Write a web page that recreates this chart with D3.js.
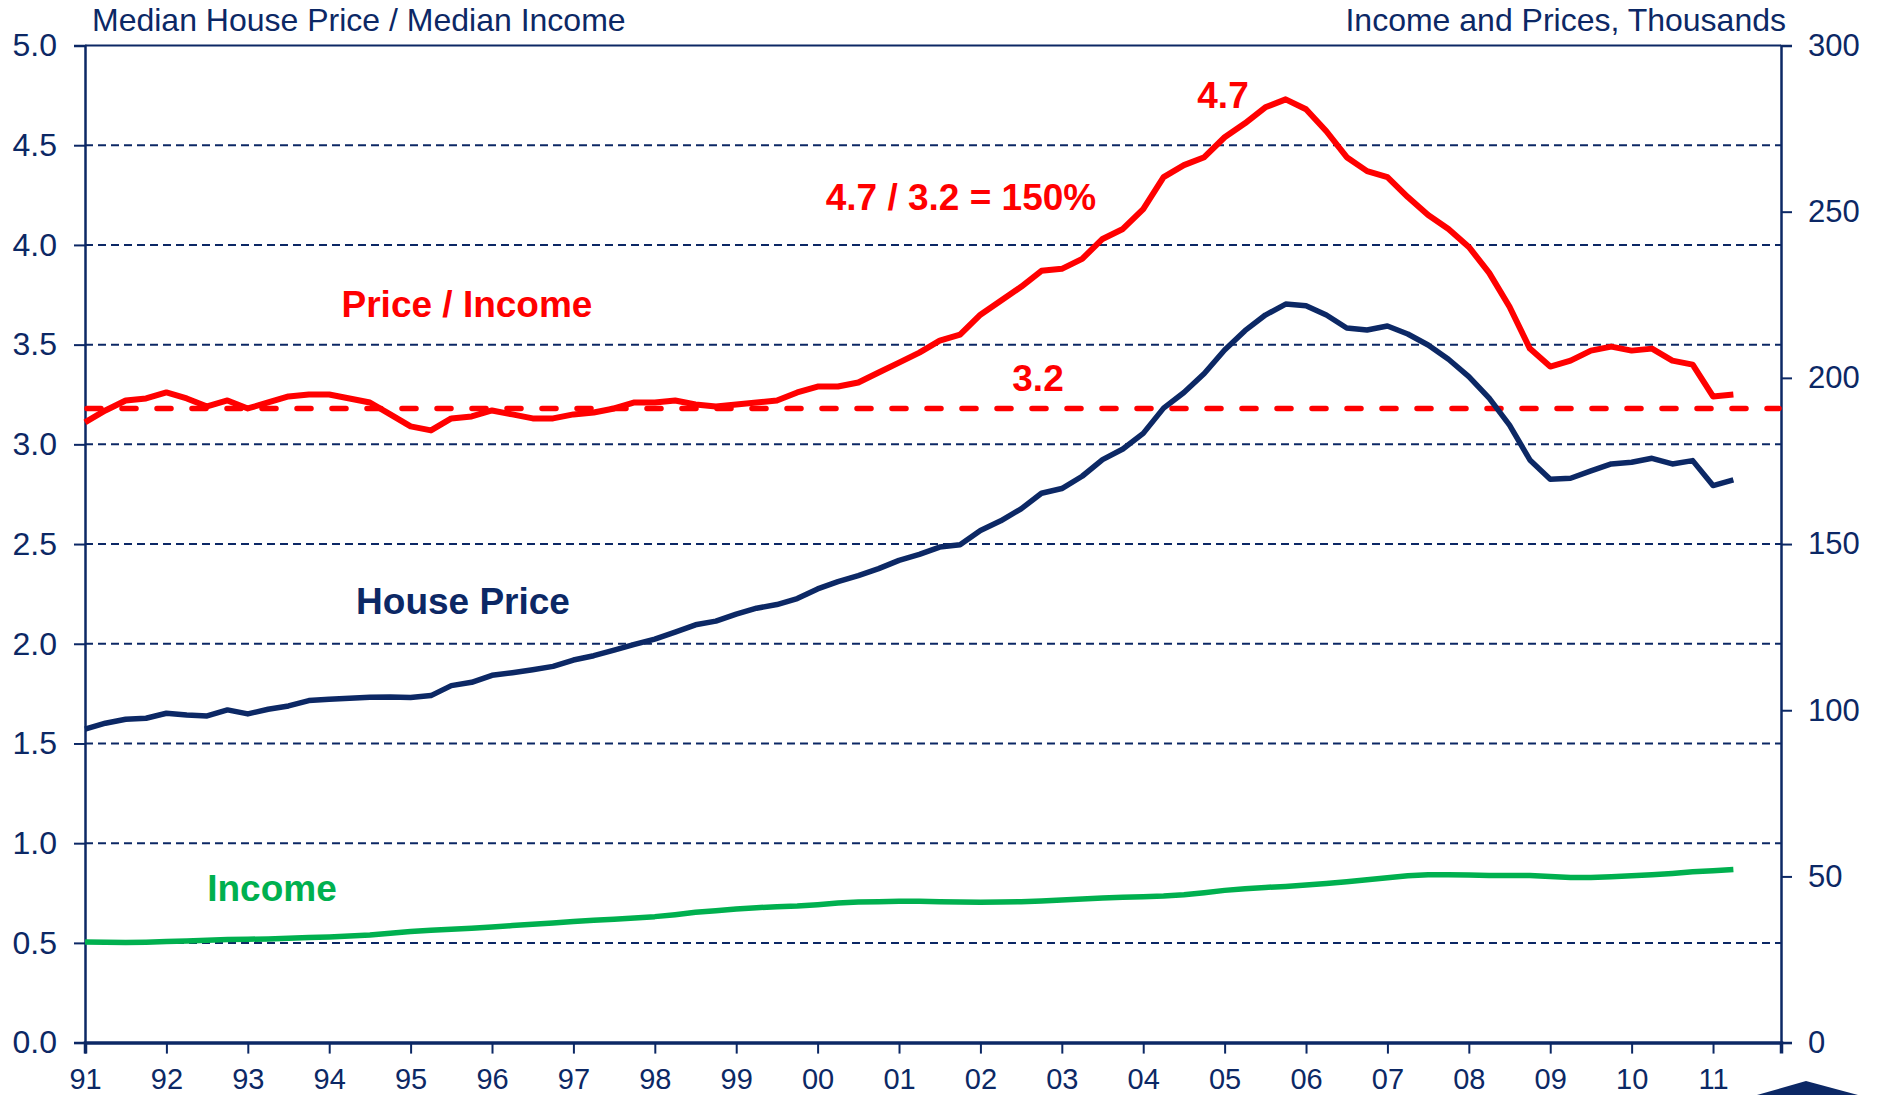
<!DOCTYPE html>
<html>
<head>
<meta charset="utf-8">
<script src="https://cdn.jsdelivr.net/npm/d3@7"></script>
<style>
	html, body { margin: 0; padding: 0; background: #ffffff; }
	svg { display: block; font-family: Arial, "Liberation Sans", sans-serif; }
</style>
</head>
<body>
<svg id="chart" width="1877" height="1095"></svg>
<script>
// quarterly series, 1991 Q1 .. 2011 Q2
var startYear = 1991;

var priceIncome = [
	3.11, 3.17, 3.22, 3.23, 3.26, 3.23, 3.19, 3.22, 3.18, 3.21,
	3.24, 3.25, 3.25, 3.23, 3.21, 3.15, 3.09, 3.07, 3.13, 3.14,
	3.17, 3.15, 3.13, 3.13, 3.15, 3.16, 3.18, 3.21, 3.21, 3.22,
	3.20, 3.19, 3.20, 3.21, 3.22, 3.26, 3.29, 3.29, 3.31, 3.36,
	3.41, 3.46, 3.52, 3.55, 3.65, 3.72, 3.79, 3.87, 3.88, 3.93,
	4.03, 4.08, 4.18, 4.34, 4.40, 4.44, 4.54, 4.61, 4.69, 4.73,
	4.68, 4.57, 4.44, 4.37, 4.34, 4.24, 4.15, 4.08, 3.99, 3.86,
	3.69, 3.48, 3.39, 3.42, 3.47, 3.49, 3.47, 3.48, 3.42, 3.40,
	3.24, 3.25
];

var housePrice = [
	94.3, 96.1, 97.3, 97.6, 99.1, 98.6, 98.3, 100.1, 98.9, 100.3,
	101.3, 102.9, 103.3, 103.6, 103.9, 104.0, 103.8, 104.4, 107.4, 108.4,
	110.5, 111.3, 112.2, 113.2, 115.1, 116.4, 118.1, 119.8, 121.4, 123.5,
	125.7, 126.8, 128.9, 130.7, 131.8, 133.6, 136.5, 138.7, 140.5, 142.6,
	145.1, 146.9, 149.1, 149.8, 154.1, 157.0, 160.6, 165.3, 166.7, 170.4,
	175.4, 178.6, 183.3, 190.9, 195.6, 201.3, 208.4, 214.2, 218.9, 222.2,
	221.7, 218.9, 215.0, 214.4, 215.6, 213.2, 209.9, 205.6, 200.4, 193.9,
	185.8, 175.3, 169.5, 169.8, 172.0, 174.1, 174.6, 175.8, 174.1, 175.1,
	167.6, 169.3
];

var income = [
	30.3, 30.2, 30.1, 30.2, 30.4, 30.6, 30.8, 31.0, 31.1, 31.2,
	31.4, 31.6, 31.8, 32.1, 32.4, 32.9, 33.4, 33.8, 34.1, 34.4,
	34.8, 35.2, 35.6, 36.0, 36.4, 36.8, 37.1, 37.5, 37.9, 38.5,
	39.2, 39.7, 40.2, 40.6, 40.9, 41.1, 41.5, 42.0, 42.3, 42.4,
	42.5, 42.5, 42.4, 42.3, 42.2, 42.3, 42.4, 42.6, 42.9, 43.2,
	43.5, 43.7, 43.9, 44.1, 44.5, 45.1, 45.8, 46.3, 46.7, 47.0,
	47.4, 47.9, 48.4, 49.0, 49.6, 50.2, 50.5, 50.5, 50.4, 50.3,
	50.3, 50.3, 50.0, 49.7, 49.7, 49.9, 50.2, 50.5, 50.9, 51.4,
	51.7, 52.1
];

var avgRatio = 3.18;

var yearTicks = [1991, 1992, 1993, 1994, 1995, 1996, 1997, 1998, 1999, 2000,
	2001, 2002, 2003, 2004, 2005, 2006, 2007, 2008, 2009, 2010, 2011];
var yearLabels = ["91", "92", "93", "94", "95", "96", "97", "98", "99", "00",
	"01", "02", "03", "04", "05", "06", "07", "08", "09", "10", "11"];
var leftTicks = [0, 0.5, 1, 1.5, 2, 2.5, 3, 3.5, 4, 4.5, 5];
var rightTicks = [0, 50, 100, 150, 200, 250, 300];

(function() {

	var navy = '#0c2865';
	var red = '#ff0000';
	var green = '#00b04f';

	var left = 85, right = 1781, top = 45.5, bottom = 1042.6;

	var svg = d3.select('#chart');

	var x = d3.scaleLinear()
		.domain([1991, 2011.835])
		.range([left, right]);

	var yL = d3.scaleLinear()
		.domain([0, 5])
		.range([bottom, top]);

	var yR = d3.scaleLinear()
		.domain([0, 300])
		.range([bottom, top]);

	function qx(d, i) { return x(startYear + i / 4); }

	// grid
	svg.append('g')
		.attr('class', 'grid')
		.selectAll('line')
		.data(leftTicks.filter(function(d) { return d > 0 && d < 5; }))
		.enter()
		.append('line')
		.attr('x1', left)
		.attr('x2', right)
		.attr('y1', function(d) { return yL(d); })
		.attr('y2', function(d) { return yL(d); })
		.attr('stroke', navy)
		.attr('stroke-width', 2)
		.attr('stroke-dasharray', '8,5');

	svg.append('line')
		.attr('x1', left).attr('x2', right)
		.attr('y1', yL(5)).attr('y2', yL(5))
		.attr('stroke', navy)
		.attr('stroke-width', 2);

	// left axis
	var leftAxis = d3.axisLeft(yL)
		.tickValues(leftTicks)
		.tickFormat(d3.format('.1f'))
		.tickSize(11)
		.tickPadding(17);

	var gL = svg.append('g')
		.attr('transform', 'translate(' + left + ',0)')
		.call(leftAxis);

	// right axis
	var rightAxis = d3.axisRight(yR)
		.tickValues(rightTicks)
		.tickFormat(d3.format('d'))
		.tickSize(11)
		.tickPadding(16);

	var gR = svg.append('g')
		.attr('transform', 'translate(' + right + ',0)')
		.call(rightAxis);

	// bottom axis
	var bottomAxis = d3.axisBottom(x)
		.tickValues(yearTicks)
		.tickFormat(function(d, i) { return yearLabels[i]; })
		.tickSize(11)
		.tickPadding(15);

	var gB = svg.append('g')
		.attr('transform', 'translate(0,' + bottom + ')')
		.call(bottomAxis);

	[gL, gR, gB].forEach(function(g) {
		g.select('.domain')
			.attr('stroke', navy)
			.attr('stroke-width', 2.5);
		g.selectAll('.tick line')
			.attr('stroke', navy)
			.attr('stroke-width', 2);
		g.selectAll('.tick text')
			.attr('fill', navy)
			.style('font-family', 'Arial, "Liberation Sans", sans-serif');
	});
	gL.selectAll('.tick text').style('font-size', '32px');
	gR.selectAll('.tick text').style('font-size', '31px');
	gB.selectAll('.tick text').style('font-size', '29px');
	gB.select('.domain').attr('stroke-width', 3.5);

	// average ratio line
	svg.append('line')
		.attr('x1', left + 2)
		.attr('x2', right - 2)
		.attr('y1', yL(avgRatio))
		.attr('y2', yL(avgRatio))
		.attr('stroke', red)
		.attr('stroke-width', 5.5)
		.attr('stroke-linecap', 'round')
		.attr('stroke-dasharray', '14,21');

	// lines
	var lineL = d3.line()
		.x(qx)
		.y(function(d) { return yL(d); });

	var lineR = d3.line()
		.x(qx)
		.y(function(d) { return yR(d); });

	svg.append('path')
		.datum(income)
		.attr('d', lineR)
		.attr('fill', 'none')
		.attr('stroke', green)
		.attr('stroke-width', 5.5)
		.attr('stroke-linejoin', 'round');

	svg.append('path')
		.datum(housePrice)
		.attr('d', lineR)
		.attr('fill', 'none')
		.attr('stroke', navy)
		.attr('stroke-width', 5.5)
		.attr('stroke-linejoin', 'round');

	svg.append('path')
		.datum(priceIncome)
		.attr('d', lineL)
		.attr('fill', 'none')
		.attr('stroke', red)
		.attr('stroke-width', 6)
		.attr('stroke-linejoin', 'round');

	// titles
	svg.append('text')
		.attr('x', 92)
		.attr('y', 31)
		.attr('fill', navy)
		.style('font-size', '32px')
		.text('Median House Price / Median Income');

	svg.append('text')
		.attr('x', 1786)
		.attr('y', 31)
		.attr('text-anchor', 'end')
		.attr('fill', navy)
		.style('font-size', '32px')
		.text('Income and Prices, Thousands');

	// labels
	var notes = [
		{ t: 'Price / Income', x: 467, y: 304, c: red },
		{ t: '4.7 / 3.2 = 150%', x: 961, y: 197, c: red },
		{ t: '4.7', x: 1223, y: 95, c: red },
		{ t: '3.2', x: 1038, y: 378, c: red },
		{ t: 'House Price', x: 463, y: 601, c: navy },
		{ t: 'Income', x: 272, y: 888, c: green }
	];

	svg.append('g')
		.selectAll('text')
		.data(notes)
		.enter()
		.append('text')
		.attr('x', function(d) { return d.x; })
		.attr('y', function(d) { return d.y; })
		.attr('dy', '0.36em')
		.attr('text-anchor', 'middle')
		.attr('fill', function(d) { return d.c; })
		.style('font-size', '37px')
		.style('font-weight', 'bold')
		.text(function(d) { return d.t; });

	// corner shape
	svg.append('polygon')
		.attr('points', '1757,1095 1806,1081 1858,1095')
		.attr('fill', navy);

})();
</script>
</body>
</html>
